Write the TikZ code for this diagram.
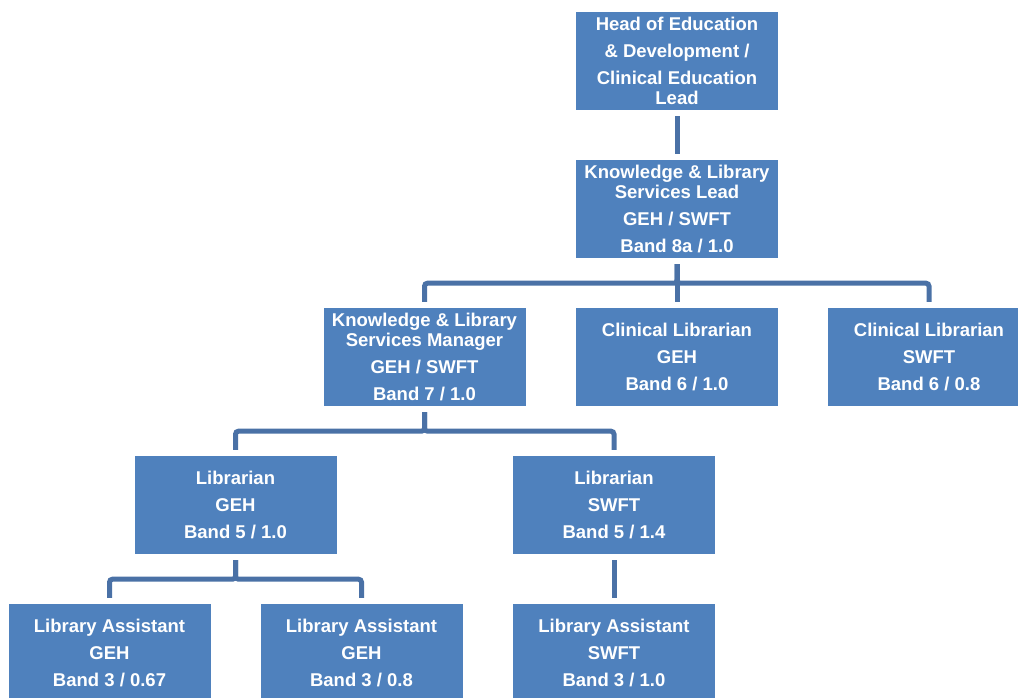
\documentclass[tikz,border=0pt]{standalone}
\usepackage{fontspec}
\setmainfont{Liberation Sans}
\definecolor{boxblue}{HTML}{4F81BD}
\definecolor{lineblue}{HTML}{4A71A6}
\begin{document}
\begin{tikzpicture}[x=1pt,y=-1pt,
  box/.style={fill=boxblue, minimum width=202pt, minimum height=98pt, inner sep=0pt,
    text=white, font=\bfseries\fontsize{18.5}{19.5}\selectfont, align=center},
  conn/.style={draw=lineblue, line width=5pt, rounded corners=3pt,
    shorten <=6pt, shorten >=6pt}]
\useasboundingbox (0,0) rectangle (1018,697);
\node[box] (head) at (677,61) {Head of Education\\[7.5pt]\& Development /\\[7.5pt]Clinical Education\\Lead};
\node[box] (lead) at (677,209) {Knowledge \& Library\\Services Lead\\[7.5pt]GEH / SWFT\\[7.5pt]Band 8a / 1.0};
\node[box] (mgr) at (424.5,357) {Knowledge \& Library\\Services Manager\\[7.5pt]GEH / SWFT\\[7.5pt]Band 7 / 1.0};
\node[box] (clgeh) at (677,357) {Clinical Librarian\\[7.5pt]GEH\\[7.5pt]Band 6 / 1.0};
\node[box] (clswft) at (929,357) {Clinical Librarian\\[7.5pt]SWFT\\[7.5pt]Band 6 / 0.8};
\node[box] (libgeh) at (235.5,505) {Librarian\\[7.5pt]GEH\\[7.5pt]Band 5 / 1.0};
\node[box] (libswft) at (614,505) {Librarian\\[7.5pt]SWFT\\[7.5pt]Band 5 / 1.4};
\node[box] (laa) at (109.5,653) {Library Assistant\\[7.5pt]GEH\\[7.5pt]Band 3 / 0.67};
\node[box] (lab) at (361.5,653) {Library Assistant\\[7.5pt]GEH\\[7.5pt]Band 3 / 0.8};
\node[box] (lac) at (614,653) {Library Assistant\\[7.5pt]SWFT\\[7.5pt]Band 3 / 1.0};
\draw[conn] (head.south) -- (lead.north);
\draw[conn] (lead.south) -- ++(0,25) -| (mgr.north);
\draw[conn] (lead.south) -- (clgeh.north);
\draw[conn] (lead.south) -- ++(0,25) -| (clswft.north);
\draw[conn] (mgr.south) -- ++(0,25) -| (libgeh.north);
\draw[conn] (mgr.south) -- ++(0,25) -| (libswft.north);
\draw[conn] (libgeh.south) -- ++(0,25) -| (laa.north);
\draw[conn] (libgeh.south) -- ++(0,25) -| (lab.north);
\draw[conn] (libswft.south) -- (lac.north);
\end{tikzpicture}
\end{document}
